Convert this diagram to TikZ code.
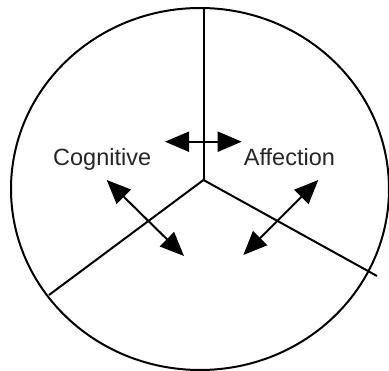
\documentclass[tikz,border=0pt]{standalone}
\usepackage{fontspec}
\setmainfont{Liberation Sans}
\usetikzlibrary{arrows.meta}
\tikzset{
  outline/.style={line width=2pt, black},
  spoke/.style={line width=2pt, black},
  dbl/.style={line width=2pt, black, {Triangle[length=24pt,width=20pt]}-{Triangle[length=24pt,width=20pt]}},
  lbl/.style={anchor=base, inner sep=0pt, text=black!85, font=\fontsize{23.5}{28}\selectfont}
}
\begin{document}
\begin{tikzpicture}[x=1pt,y=-1pt]
\useasboundingbox (0,0) rectangle (389,371);
\fill[white] (0,0) rectangle (389,371);
\draw[outline] (200,189) ellipse [x radius=189pt, y radius=181pt];
\coordinate (c) at (203.5,180);
\coordinate (top) at (203.5,7);
\coordinate (lend) at (49,295);
\coordinate (rend) at (377,276);
\draw[spoke] (c) -- (top);
\draw[spoke] (c) -- (lend);
\draw[spoke] (c) -- (rend);
\node[lbl] (cog) at (102.2,165.5) {Cognitive};
\node[lbl] (aff) at (289.4,165.5) {Affection};
\coordinate (h1) at (165,141.7);
\coordinate (h2) at (241.7,141.7);
\coordinate (l1) at (106.7,180);
\coordinate (l2) at (184,256);
\coordinate (r1) at (318.3,180);
\coordinate (r2) at (243.3,255);
\draw[dbl] (h1) -- (h2);
\draw[dbl] (l1) -- (l2);
\draw[dbl] (r1) -- (r2);
\end{tikzpicture}
\end{document}
